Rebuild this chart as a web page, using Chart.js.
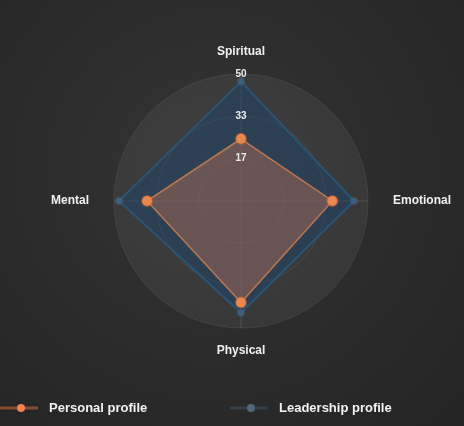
<!DOCTYPE html>
<html>
<head>
<meta charset="utf-8">
<script src="https://cdn.jsdelivr.net/npm/chart.js@4.4.0/dist/chart.umd.min.js"></script>
<style>
  html, body { margin: 0; padding: 0; }
  body {
    width: 464px; height: 426px; overflow: hidden;
    background: radial-gradient(ellipse at 45% 40%, #343434 0%, #2b2b2b 55%, #242424 100%);
  }
  #wrap { position: relative; width: 464px; height: 426px; }
</style>
</head>
<body>
<div id="wrap"><canvas id="radarChart"></canvas></div>
<script>
// Profile dimensions and values
const categories = ['Spiritual', 'Emotional', 'Physical', 'Mental'];
const personalProfile = [24.5, 36, 40, 37];
const leadershipProfile = [47, 44.5, 44, 48];
const seriesNames = ['Personal profile', 'Leadership profile'];
const scaleMax = 50;
const tickStep = 50 / 3;

// Legend drawn by hand so it can sit like the original (line + dot)
const chalkLegend = {
    id: 'chalkLegend',
    afterDraw(chart) {
        const ctx = chart.ctx;
        const y = 408;
        const starts = [4, 234];
        ctx.save();
        chart.data.datasets.forEach(function(ds, i) {
            const x = starts[i];
            ctx.strokeStyle = ds.legendLine;
            ctx.lineWidth = 3;
            ctx.beginPath();
            ctx.moveTo(x - 4, y);
            ctx.lineTo(x + 34, y);
            ctx.stroke();
            ctx.fillStyle = ds.legendDot;
            ctx.beginPath();
            ctx.arc(x + 17, y, 4, 0, Math.PI * 2);
            ctx.fill();
            ctx.fillStyle = '#f2f2f2';
            ctx.font = 'bold 13px "Liberation Sans"';
            ctx.textBaseline = 'middle';
            ctx.fillText(ds.label, x + 45, y);
        });
        ctx.restore();
    }
};

document.addEventListener('DOMContentLoaded', function() {
    try {
        const canvas = document.getElementById('radarChart');
        new Chart(canvas.getContext('2d'), {
            type: 'radar',
            data: {
                labels: categories,
                datasets: [{
                    label: seriesNames[0],
                    data: personalProfile,
                    borderColor: 'rgba(214,130,80,0.8)',
                    backgroundColor: 'rgba(165,108,84,0.5)',
                    borderWidth: 1.5,
                    pointRadius: 5,
                    pointBorderWidth: 2,
                    pointBackgroundColor: '#e8884f',
                    pointBorderColor: 'rgba(240,120,60,0.4)',
                    legendLine: 'rgba(200,100,50,0.6)',
                    legendDot: '#e8884f'
                }, {
                    label: seriesNames[1],
                    data: leadershipProfile,
                    borderColor: 'rgba(40,90,130,0.8)',
                    backgroundColor: 'rgba(26,68,112,0.45)',
                    borderWidth: 2,
                    pointRadius: 3,
                    pointBackgroundColor: 'rgba(70,100,125,0.8)',
                    pointBorderColor: 'rgba(60,100,135,0.5)',
                    legendLine: 'rgba(60,78,92,0.6)',
                    legendDot: '#56687a'
                }]
            },
            options: {
                responsive: true,
                maintainAspectRatio: false,
                animation: false,
                layout: { padding: { top: 43, bottom: 66, left: 41, right: 3 } },
                plugins: {
                    legend: { display: false },
                    tooltip: { enabled: false }
                },
                scales: {
                    r: {
                        min: 0,
                        max: scaleMax,
                        backgroundColor: 'rgba(255,255,255,0.055)',
                        grid: { circular: true, color: 'rgba(255,255,255,0.08)' },
                        angleLines: { color: 'rgba(255,255,255,0.12)' },
                        ticks: {
                            z: 1,
                            stepSize: tickStep,
                            color: '#ececec',
                            showLabelBackdrop: false,
                            font: { family: 'Liberation Sans', size: 10, weight: 'bold' },
                            callback: function(v) { return Math.round(v); }
                        },
                        pointLabels: {
                            color: '#f0f0f0',
                            // vertical labels sit closer to the ring than the side ones
                            padding: function(c) { return c.index % 2 === 0 ? 8 : 18; },
                            font: { family: 'Liberation Sans', size: 12, weight: 'bold' }
                        }
                    }
                }
            },
            plugins: [chalkLegend]
        });
    } catch(e) { console.error('radar init', e); }
});
</script>
</body>
</html>
